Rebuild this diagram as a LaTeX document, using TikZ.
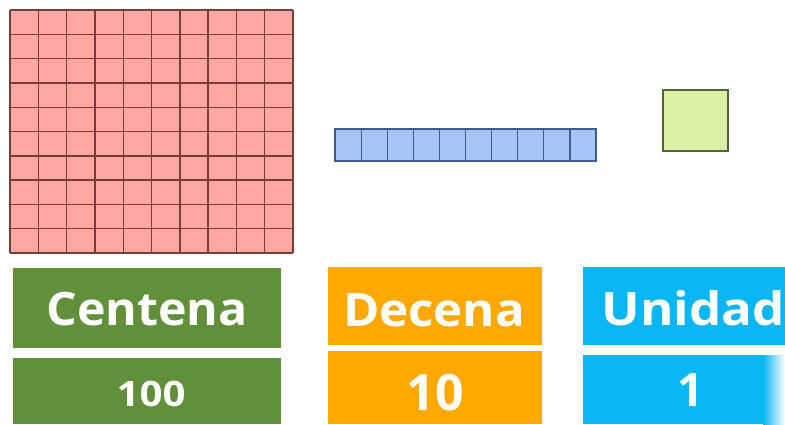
\documentclass[tikz,border=0pt]{standalone}
\usepackage{fontspec}
\newfontfamily\labfont{Open Sans}
\definecolor{gridfill}{HTML}{FFA8A2}
\definecolor{gridline}{HTML}{7A3C38}
\definecolor{barfill}{HTML}{A6C4F6}
\definecolor{barline}{HTML}{3E5C90}
\definecolor{unitfill}{HTML}{DBF1A6}
\definecolor{unitline}{HTML}{56623A}
\definecolor{cgreen}{HTML}{62903A}
\definecolor{corange}{HTML}{FFA800}
\definecolor{cblue}{HTML}{08B6F4}
\tikzset{
  lab/.style={text=white, inner sep=0pt, anchor=center},
}
\newcommand{\labsz}[1]{\labfont\bfseries\fontsize{#1}{#1}\selectfont}
\begin{document}
\begin{tikzpicture}[x=1pt,y=-1pt]
\useasboundingbox (0,0) rectangle (785,424);
\fill[white] (0,0) rectangle (785,424);
% hundred grid
\fill[gridfill] (10,10) rectangle (293,253);
\foreach \i in {0,...,10} {
  \draw[gridline, line width=1.4pt] ({10+\i*28.3},10) -- ({10+\i*28.3},253);
  \draw[gridline, line width=1.4pt] (10,{10+\i*24.3}) -- (293,{10+\i*24.3});
}
% ten bar
\fill[barfill] (335,129) rectangle (596,161);
\foreach \i in {0,...,10} {
  \draw[barline, line width=1.2pt] ({335+\i*26.1},129) -- ({335+\i*26.1},161);
}
\draw[barline, line width=1.2pt] (335,129) rectangle (596,161);
% unit
\draw[unitline, fill=unitfill, line width=2.5pt] (663,90) rectangle (728,151);
% cards
\fill[cgreen] (13,268) rectangle (281,348);
\fill[cgreen] (13,358) rectangle (281,424);
\fill[corange] (328,267) rectangle (542,345);
\fill[corange] (328,351) rectangle (542,424);
\fill[cblue] (583,267) rectangle (785,345);
\fill[cblue] (583,355) rectangle (763,424);
\shade[left color=cblue, right color=white] (763,355) rectangle (785,424);
\node[lab, font=\labsz{46}] (cen) at (147,309) {\scalebox{1.05}[1]{Centena}};
\node[lab, font=\labsz{35}] (cien) at (151,394) {\scalebox{1.15}[1]{100}};
\node[lab, font=\labsz{46}] (dec) at (434,310) {\scalebox{1.07}[1]{Decena}};
\node[lab, font=\labsz{50}] (diez) at (435,393) {10};
\node[lab, font=\labsz{46}] (uni) at (693,308) {\scalebox{1.11}[1]{Unidad}};
\node[lab, font=\labsz{46}] (uno) at (691,390) {1};
\end{tikzpicture}
\end{document}
